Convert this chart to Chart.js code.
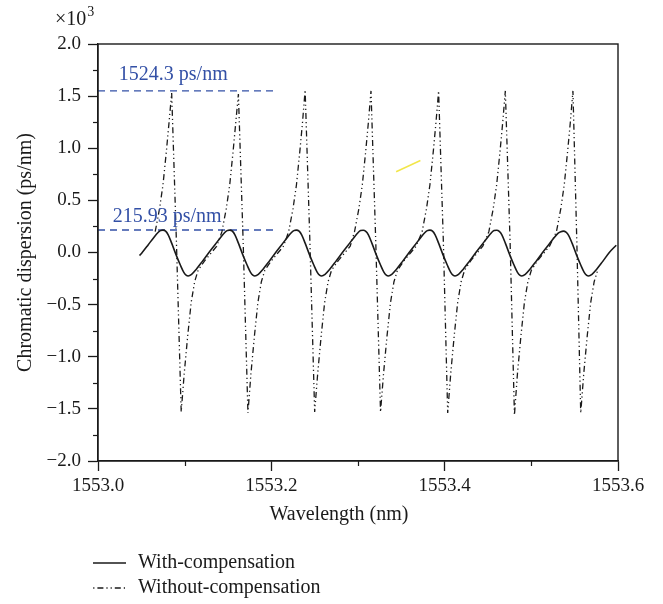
<!DOCTYPE html>
<html>
<head>
<meta charset="utf-8">
<script src="https://cdn.jsdelivr.net/npm/chart.js@4/dist/chart.umd.min.js"></script>
<style>
html,body{margin:0;padding:0;background:#fff;}
#wrap{width:663px;height:604px;position:relative;}
</style>
</head>
<body>
<div id="wrap"><canvas id="c" width="663" height="604"></canvas></div>
<script>
// ---- data (dispersion in ×10^3 ps/nm) ----
const wavelengthWith = [
 1553.048,1553.051,1553.058,1553.064,1553.069,1553.072,1553.075,1553.078,1553.081,1553.085,1553.090,1553.095,1553.099,1553.102,1553.104,
 1553.108,1553.113,1553.120,1553.128,1553.135,1553.141,1553.146,1553.149,1553.152,1553.155,1553.158,1553.162,1553.167,1553.172,1553.176,1553.179,1553.181,
 1553.185,1553.190,1553.197,1553.205,1553.212,1553.218,1553.223,1553.226,1553.229,1553.232,1553.235,1553.239,1553.244,1553.249,1553.253,1553.256,1553.258,
 1553.262,1553.267,1553.274,1553.282,1553.289,1553.295,1553.300,1553.303,1553.306,1553.309,1553.312,1553.316,1553.321,1553.326,1553.330,1553.333,1553.335,
 1553.339,1553.344,1553.351,1553.359,1553.366,1553.372,1553.377,1553.380,1553.383,1553.386,1553.389,1553.393,1553.398,1553.403,1553.407,1553.410,1553.412,
 1553.416,1553.421,1553.428,1553.436,1553.443,1553.449,1553.454,1553.457,1553.460,1553.463,1553.466,1553.470,1553.475,1553.480,1553.484,1553.487,1553.489,
 1553.493,1553.498,1553.505,1553.513,1553.520,1553.526,1553.531,1553.534,1553.537,1553.540,1553.543,1553.547,1553.552,1553.557,1553.561,1553.564,1553.566,
 1553.570,1553.575,1553.582,1553.590,1553.598
];
const dispersionWith = [
 -0.03,0.00,0.075,0.14,0.19,0.21,0.215,0.205,0.17,0.09,-0.02,-0.12,-0.19,-0.22,-0.225,
 -0.21,-0.165,-0.09,0.00,0.075,0.14,0.19,0.21,0.215,0.205,0.17,0.09,-0.02,-0.12,-0.19,-0.22,-0.225,
 -0.21,-0.165,-0.09,0.00,0.075,0.14,0.19,0.21,0.215,0.205,0.17,0.09,-0.02,-0.12,-0.19,-0.22,-0.225,
 -0.21,-0.165,-0.09,0.00,0.075,0.14,0.19,0.21,0.213,0.203,0.17,0.09,-0.02,-0.12,-0.19,-0.22,-0.225,
 -0.21,-0.165,-0.09,0.00,0.075,0.14,0.19,0.21,0.215,0.205,0.17,0.09,-0.02,-0.12,-0.19,-0.22,-0.225,
 -0.21,-0.165,-0.09,0.00,0.075,0.14,0.19,0.21,0.213,0.203,0.17,0.09,-0.02,-0.12,-0.19,-0.22,-0.225,
 -0.21,-0.165,-0.09,0.00,0.075,0.14,0.185,0.2,0.205,0.195,0.165,0.09,-0.02,-0.12,-0.19,-0.22,-0.225,
 -0.21,-0.165,-0.09,0.00,0.07
];
const wavelengthWithout = [
 1553.066,1553.071,1553.075,1553.079,1553.082,1553.085,1553.0905,1553.096,1553.0995,1553.1035,1553.1075,1553.1115,1553.1155,1553.123,1553.131,1553.137,
 1553.143,1553.148,1553.152,1553.156,1553.159,1553.162,1553.1675,1553.173,1553.1765,1553.1805,1553.1845,1553.1885,1553.1925,1553.200,1553.208,1553.214,
 1553.220,1553.225,1553.229,1553.233,1553.236,1553.239,1553.2445,1553.250,1553.2535,1553.2575,1553.2615,1553.2655,1553.2695,1553.277,1553.285,1553.291,
 1553.296,1553.301,1553.305,1553.309,1553.312,1553.315,1553.3205,1553.326,1553.3295,1553.3335,1553.3375,1553.3415,1553.3455,1553.353,1553.361,1553.367,
 1553.374,1553.379,1553.383,1553.387,1553.390,1553.393,1553.3985,1553.4035,1553.407,1553.411,1553.415,1553.419,1553.423,1553.430,1553.438,1553.444,
 1553.451,1553.456,1553.460,1553.464,1553.467,1553.470,1553.4755,1553.4805,1553.484,1553.488,1553.492,1553.496,1553.500,1553.507,1553.515,1553.521,
 1553.529,1553.534,1553.538,1553.542,1553.545,1553.548,1553.5525,1553.557,1553.5605,1553.5645,1553.5685,1553.5725,1553.5765
];
const dispersionWithout = [
 0.20,0.42,0.65,0.98,1.25,1.53,0.10,-1.53,-1.16,-0.80,-0.48,-0.28,-0.17,-0.08,0.00,0.06,
 0.20,0.42,0.65,0.98,1.25,1.52,0.10,-1.54,-1.16,-0.80,-0.48,-0.28,-0.17,-0.08,0.00,0.06,
 0.20,0.42,0.65,0.98,1.25,1.56,0.10,-1.53,-1.16,-0.80,-0.48,-0.28,-0.17,-0.08,0.00,0.06,
 0.20,0.42,0.65,0.98,1.25,1.55,0.10,-1.53,-1.16,-0.80,-0.48,-0.28,-0.17,-0.08,0.00,0.06,
 0.20,0.42,0.65,0.98,1.25,1.55,0.10,-1.54,-1.16,-0.80,-0.48,-0.28,-0.17,-0.08,0.00,0.06,
 0.20,0.42,0.65,0.98,1.25,1.55,0.10,-1.56,-1.16,-0.80,-0.48,-0.28,-0.17,-0.08,0.00,0.06,
 0.20,0.42,0.65,0.98,1.25,1.55,0.10,-1.54,-1.16,-0.80,-0.48,-0.28,-0.17
];
const seriesNames = ['With-compensation','Without-compensation'];
const refLevels = [1.55, 0.21593];
const refLabels = ['1524.3 ps/nm','215.93 ps/nm'];
const refSpan = [1553.0, 1553.202];
const strayX = [1553.344, 1553.372];
const strayY = [0.775, 0.882];
const yMinorTicks = [-1.75,-1.25,-0.75,-0.25,0.25,0.75,1.25,1.75];
const xMinorTicks = [1553.1,1553.3,1553.5];
const xTitle = 'Wavelength (nm)';
const yTitle = 'Chromatic dispersion (ps/nm)';

// ---- chart ----
const INK = '#1a1a1a';
const BLUE = '#3350a6';
const FONT = '"Liberation Serif", "DejaVu Serif", serif';
Chart.defaults.font.family = FONT;
Chart.defaults.color = INK;

const zip = (xs, ys) => xs.map((v, i) => ({x: v, y: ys[i]}));
const DASHDOT = [6,3,1.2,3,1.2,3];

const decor = {
  id: 'decor',
  afterDraw(chart) {
    const {ctx, chartArea: a, scales: {x, y}} = chart;
    ctx.save();
    // frame
    ctx.strokeStyle = INK; ctx.lineWidth = 1.4; ctx.setLineDash([]);
    ctx.strokeRect(a.left, a.top, a.right - a.left, a.bottom - a.top);
    // minor ticks
    ctx.lineWidth = 1.2;
    yMinorTicks.forEach(v => {
      const py = Math.round(y.getPixelForValue(v)) + 0.5;
      ctx.beginPath(); ctx.moveTo(a.left - 5, py); ctx.lineTo(a.left, py); ctx.stroke();
    });
    xMinorTicks.forEach(v => {
      const px = Math.round(x.getPixelForValue(v)) + 0.5;
      ctx.beginPath(); ctx.moveTo(px, a.bottom); ctx.lineTo(px, a.bottom + 5); ctx.stroke();
    });
    // multiplier
    ctx.fillStyle = INK; ctx.textAlign = 'left'; ctx.textBaseline = 'alphabetic';
    ctx.font = '20px ' + FONT;
    ctx.fillText('×10', 55, 25);
    const w = ctx.measureText('×10').width;
    ctx.font = '14px ' + FONT;
    ctx.fillText('3', 55 + w + 1, 16);
    // reference labels
    ctx.fillStyle = BLUE; ctx.font = '20px ' + FONT;
    ctx.fillText(refLabels[0], x.getPixelForValue(1553.024), y.getPixelForValue(refLevels[0]) - 11);
    ctx.fillText(refLabels[1], x.getPixelForValue(1553.017), y.getPixelForValue(refLevels[1]) - 8);
    // x title
    ctx.fillStyle = INK; ctx.textAlign = 'center'; ctx.textBaseline = 'middle';
    ctx.font = '20px ' + FONT;
    ctx.fillText(xTitle, 339, 515);
    // legend
    const rows = [563, 588];
    [0, 1].forEach(i => {
      const ds = chart.data.datasets[i];
      ctx.strokeStyle = ds.borderColor; ctx.lineWidth = ds.borderWidth;
      ctx.setLineDash(ds.borderDash || []);
      ctx.lineDashOffset = i === 1 ? 13 : 0;
      ctx.beginPath(); ctx.moveTo(93, rows[i]); ctx.lineTo(126, rows[i]); ctx.stroke();
      ctx.setLineDash([]);
      ctx.fillStyle = INK; ctx.textAlign = 'left'; ctx.textBaseline = 'middle';
      ctx.font = '20px ' + FONT;
      ctx.fillText(ds.label, 138, rows[i]);
    });
    ctx.restore();
  }
};

new Chart(document.getElementById('c'), {
  type: 'line',
  data: {
    datasets: [
      {label: seriesNames[0], data: zip(wavelengthWith, dispersionWith), borderColor: INK, borderWidth: 1.6,
       pointRadius: 0, cubicInterpolationMode: 'monotone', fill: false},
      {label: seriesNames[1], data: zip(wavelengthWithout, dispersionWithout), borderColor: INK, borderWidth: 1.3,
       borderDash: DASHDOT, pointRadius: 0, tension: 0, fill: false},
      {label: 'ref1', data: zip(refSpan, [refLevels[0], refLevels[0]]), borderColor: BLUE, borderWidth: 1.3,
       borderDash: [7,5], pointRadius: 0},
      {label: 'ref2', data: zip(refSpan, [refLevels[1], refLevels[1]]), borderColor: BLUE, borderWidth: 1.3,
       borderDash: [7,5], pointRadius: 0},
      {label: 'stray', data: zip(strayX, strayY), borderColor: '#f2e64a', borderWidth: 1.5, pointRadius: 0}
    ]
  },
  options: {
    responsive: false,
    animation: false,
    layout: {padding: {left: 0, right: 45, top: 44, bottom: 77}},
    plugins: {legend: {display: false}, tooltip: {enabled: false}},
    scales: {
      x: {
        type: 'linear', min: 1553.0, max: 1553.6,
        ticks: {stepSize: 0.2, padding: 4, color: INK, font: {size: 19}, maxRotation: 0,
                callback: v => Number(v).toFixed(1)},
        grid: {drawOnChartArea: false, drawTicks: true, tickLength: 10, tickColor: INK, tickWidth: 1.3},
        border: {display: true, color: INK, width: 1.3},
        afterFit: s => { s.height = 66; }
      },
      y: {
        type: 'linear', min: -2, max: 2,
        ticks: {stepSize: 0.5, padding: 7, color: INK, font: {size: 19},
                callback: v => Number(v).toFixed(1).replace('-', '\u2212')},
        grid: {drawOnChartArea: false, drawTicks: true, tickLength: 10, tickColor: INK, tickWidth: 1.3},
        border: {display: true, color: INK, width: 1.3},
        title: {display: true, text: yTitle, color: INK, font: {size: 20}, padding: {top: 14, bottom: 0}},
        afterFit: s => { s.width = 98; }
      }
    }
  },
  plugins: [decor]
});
</script>
</body>
</html>
